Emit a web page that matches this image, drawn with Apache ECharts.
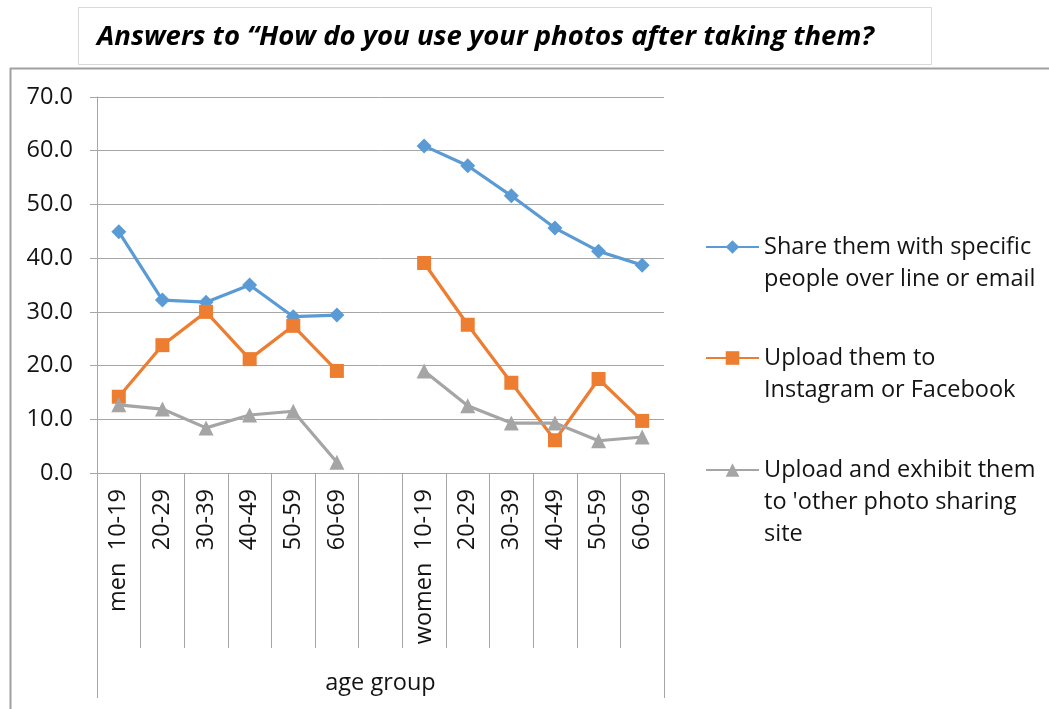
<!DOCTYPE html>
<html><head><meta charset="utf-8">
<script src="https://cdn.jsdelivr.net/npm/echarts@6/dist/echarts.min.js"></script>
<style>html,body{margin:0;padding:0;background:#fff}#c{width:1049px;height:709px}</style>
</head><body><div id="c"></div>
<script>
// ---- data ----
const titleText = 'Answers to \u201cHow do you use your photos after taking them?';
const sexes = ['men', 'women'];
const ageGroups = ['10-19', '20-29', '30-39', '40-49', '50-59', '60-69'];
const outerLabel = 'age group';
const seriesNames = [
  'Share them with specific people over line or email',
  'Upload them to Instagram or Facebook',
  "Upload and exhibit them to 'other photo sharing site"
];
const legendLines = [
  ['Share them with specific', 'people over line or email'],
  ['Upload them to', 'Instagram or Facebook'],
  ['Upload and exhibit them', "to 'other photo sharing", 'site']
];
const shareMen = [44.9, 32.2, 31.8, 35.0, 29.1, 29.4];
const shareWomen = [60.9, 57.2, 51.6, 45.6, 41.3, 38.7];
const uploadMen = [14.2, 23.8, 30.0, 21.2, 27.4, 19.0];
const uploadWomen = [39.1, 27.6, 16.8, 6.1, 17.5, 9.7];
const otherMen = [12.7, 11.9, 8.4, 10.8, 11.5, 2.0];
const otherWomen = [19.0, 12.5, 9.3, 9.3, 6.0, 6.7];
const yMin = 0, yMax = 70, yInterval = 10;

// ---- build ----
const FONT = '"Open Sans", "Liberation Sans", sans-serif';
const FS = 23.5;
const TXT = '#141414';
const GRID = '#a6a6a6';
const colors = ['#5B9BD5', '#ED7D31', '#A5A5A5'];
const symbols = ['diamond', 'rect', 'triangle'];
const symbolSizes = [15, 14, 15];

const categories = [];
sexes.forEach((s, si) => {
  if (si > 0) categories.push('gap');
  ageGroups.forEach(a => categories.push(s + '|' + a));
});
const join = (m, w) => m.concat([null], w);
const values = [join(shareMen, shareWomen), join(uploadMen, uploadWomen), join(otherMen, otherWomen)];

const chart = echarts.init(document.getElementById('c'), null, {renderer: 'canvas'});
const LH = 32;
const legendBlank = [1, 1, 2];
const legendFirstLine = [247, 358, 470];
const legendTops = legendFirstLine.map((y, i) => y - (legendBlank[i] * 2 + 1) * LH / 2 + (legendLines[i].length - 1 - legendBlank[i]) * 0);

chart.setOption({
  animation: false,
  backgroundColor: '#fff',
  color: colors,
  grid: {left: 97, right: 385, top: 97, bottom: 236, containLabel: false},
  xAxis: [{
    type: 'category',
    data: categories,
    boundaryGap: true,
    axisLine: {show: true, lineStyle: {color: GRID, width: 1}},
    axisTick: {show: true, interval: 0, length: 175, lineStyle: {color: GRID, width: 1}},
    axisLabel: {
      interval: 0, rotate: 90, margin: 16, fontFamily: FONT, fontSize: FS, color: TXT,
      formatter: function (v) {
        if (v === 'gap') return '';
        const p = v.split('|');
        return p[1] === ageGroups[0] ? p[0] + '  ' + p[1] : p[1];
      }
    },
    splitLine: {show: false}
  }, {
    type: 'category',
    data: [outerLabel],
    position: 'bottom',
    boundaryGap: true,
    axisLine: {show: false},
    axisTick: {show: true, interval: 0, length: 225, lineStyle: {color: GRID, width: 1}},
    axisLabel: {margin: 198, fontFamily: FONT, fontSize: FS, color: TXT},
    splitLine: {show: false}
  }],
  yAxis: {
    type: 'value', min: yMin, max: yMax, interval: yInterval,
    axisLine: {show: true, lineStyle: {color: GRID, width: 1}},
    axisTick: {show: true, length: 7, lineStyle: {color: GRID}},
    axisLabel: {margin: 24, fontFamily: FONT, fontSize: FS, color: TXT, formatter: v => v.toFixed(1)},
    splitLine: {show: true, lineStyle: {color: GRID, width: 1}}
  },
  legend: seriesNames.map((n, i) => ({
    data: [n],
    orient: 'vertical',
    left: 705,
    top: legendTops[i],
    padding: 0,
    itemWidth: 53,
    itemHeight: 17,
    itemGap: 5,
    selectedMode: false,
    textStyle: {fontFamily: FONT, fontSize: FS, color: TXT, lineHeight: LH},
    formatter: () => '\n'.repeat(legendBlank[i]) + legendLines[i].join('\n')
  })),
  series: seriesNames.map((n, i) => ({
    name: n,
    type: 'line',
    xAxisIndex: 0,
    data: values[i],
    symbol: symbols[i],
    symbolSize: symbolSizes[i],
    showSymbol: true,
    connectNulls: false,
    lineStyle: {color: colors[i], width: 3.2},
    itemStyle: {color: colors[i]},
    z: 3 + i
  })),
  graphic: [
    {type: 'rect', shape: {x: 78.5, y: 7.5, width: 853, height: 57}, style: {fill: '#fff', stroke: '#d9d9d9', lineWidth: 1}, z: 1},
    {type: 'text', x: 97, y: 37, style: {text: titleText, font: 'italic bold 27.5px ' + FONT, fill: '#000', verticalAlign: 'middle'}, z: 2},
    {type: 'line', shape: {x1: 10, y1: 68.5, x2: 1049, y2: 68.5}, style: {stroke: '#a0a0a0', lineWidth: 2}},
    {type: 'line', shape: {x1: 10.5, y1: 68, x2: 10.5, y2: 709}, style: {stroke: '#a0a0a0', lineWidth: 2}}
  ]
});
</script></body></html>
